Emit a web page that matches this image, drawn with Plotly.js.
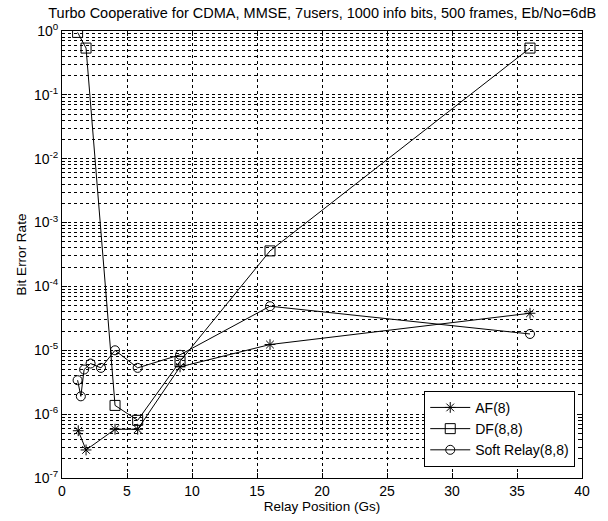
<!DOCTYPE html>
<html>
<head>
<meta charset="utf-8">
<script src="https://cdn.plot.ly/plotly-3.0.1.min.js"></script>
<style>html,body{margin:0;padding:0;background:#fff;}#chart{width:608px;height:521px;}</style>
</head>
<body>
<div id="chart"></div>
<script>
// Data
const afX = [1.25, 1.85, 4.08, 5.82, 9.08, 16, 36];
const afY = [5.5e-7, 2.75e-7, 5.8e-7, 5.8e-7, 5.5e-6, 1.23e-5, 3.8e-5];

const dfX = [1.2, 1.85, 4.08, 5.82, 9.08, 16, 36];
const dfY = [0.95, 0.54, 1.37e-6, 8.0e-7, 6.7e-6, 3.6e-4, 0.54];

const srX = [1.2, 1.45, 1.7, 2.2, 3.0, 4.08, 5.82, 9.08, 16, 36];
const srY = [3.4e-6, 1.9e-6, 5.0e-6, 6.2e-6, 5.3e-6, 1.0e-5, 5.3e-6, 8.5e-6, 4.9e-5, 1.8e-5];

const seriesNames = ['AF(8)', 'DF(8,8)', 'Soft Relay(8,8)'];
const yTickVals = [1e-7, 1e-6, 1e-5, 1e-4, 1e-3, 1e-2, 1e-1, 1];
const yTickText = ['10<sup>-7</sup>', '10<sup>-6</sup>', '10<sup>-5</sup>', '10<sup>-4</sup>', '10<sup>-3</sup>', '10<sup>-2</sup>', '10<sup>-1</sup>', '10<sup>0</sup>'];
const xTickVals = [0, 5, 10, 15, 20, 25, 30, 35, 40];

const lineStyle = {color: 'black', width: 1};
const traces = [
  {x: afX, y: afY, name: seriesNames[0], mode: 'lines+markers', line: lineStyle,
   marker: {symbol: 'asterisk-open', size: 9, color: 'black', line: {color: 'black', width: 1}}},
  {x: dfX, y: dfY, name: seriesNames[1], mode: 'lines+markers', line: lineStyle,
   marker: {symbol: 'square-open', size: 10, color: 'black', line: {color: 'black', width: 1}}},
  {x: srX, y: srY, name: seriesNames[2], mode: 'lines+markers', line: lineStyle,
   marker: {symbol: 'circle-open', size: 9, color: 'black', line: {color: 'black', width: 1}}}
];

const fam = 'Liberation Sans, Arial, sans-serif';
const font = {family: fam, size: 13.5, color: 'black'};
const tickFont = {family: fam, size: 14, color: 'black'};
const layout = {
  width: 608, height: 521,
  margin: {l: 62, r: 26, t: 31, b: 43},
  paper_bgcolor: 'white', plot_bgcolor: 'white',
  font: font,
  showlegend: true,
  title: {text: 'Turbo Cooperative for CDMA, MMSE, 7users, 1000 info bits, 500 frames, Eb/No=6dB',
          font: {family: fam, size: 14.5, color: 'black'},
          x: 0.53, xanchor: 'center', y: 0.976, yanchor: 'middle'},
  xaxis: {
    range: [0, 40], tickvals: xTickVals, ticks: 'inside', ticklen: 5, tickcolor: 'black',
    showline: true, linecolor: 'black', linewidth: 1, mirror: 'allticks',
    showgrid: true, gridcolor: 'black', griddash: '3px,3px', gridwidth: 1,
    zeroline: false, tickfont: tickFont,
    title: {text: 'Relay Position (Gs)', font: font, standoff: 1}
  },
  yaxis: {
    type: 'log', range: [-7, 0], tickvals: yTickVals, ticktext: yTickText,
    ticks: 'inside', ticklen: 5, tickcolor: 'black',
    showline: true, linecolor: 'black', linewidth: 1, mirror: 'allticks',
    showgrid: true, gridcolor: 'black', griddash: '3px,3px', gridwidth: 1,
    zeroline: false, tickfont: tickFont,
    minor: {dtick: 'D1', showgrid: true, gridcolor: 'black', griddash: '3px,3px', gridwidth: 1,
            ticks: 'inside', ticklen: 3, tickcolor: 'black'},
    title: {text: 'Bit Error Rate', font: font, standoff: 4}
  },
  legend: {
    x: 0.987, xanchor: 'right', y: 0.025, yanchor: 'bottom',
    bgcolor: 'white', bordercolor: 'black', borderwidth: 1,
    font: {family: fam, size: 14, color: 'black'},
    tracegroupgap: 0, itemwidth: 40
  }
};

Plotly.newPlot('chart', traces, layout, {displayModeBar: false, staticPlot: true});
</script>
</body>
</html>
